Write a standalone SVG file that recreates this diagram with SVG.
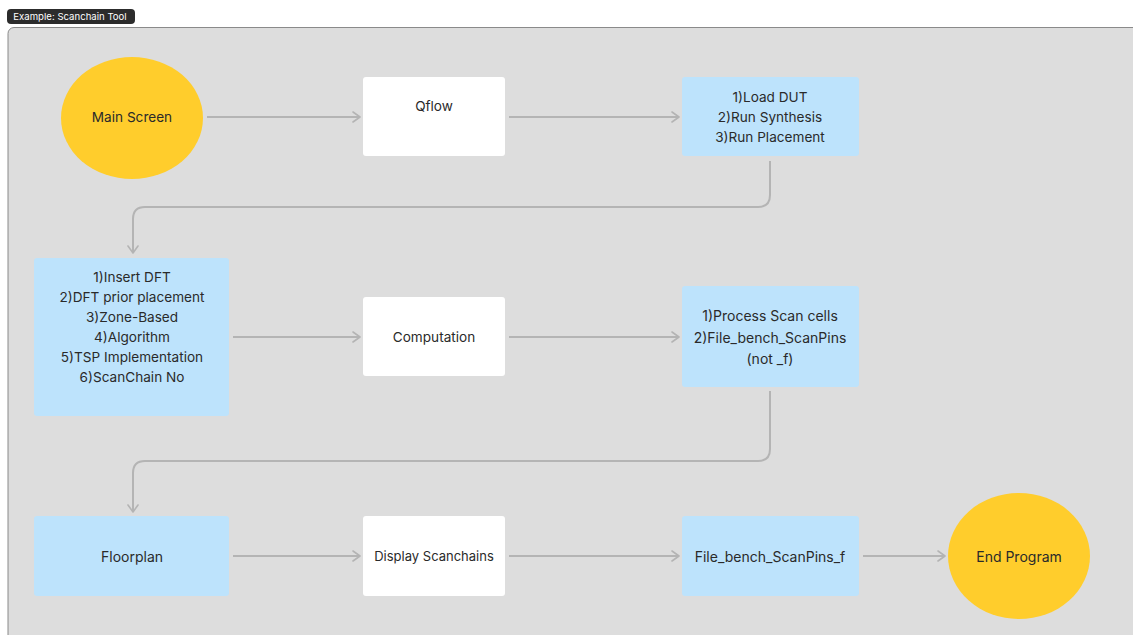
<svg xmlns="http://www.w3.org/2000/svg" width="1133" height="635" viewBox="0 0 1133 635">
  <defs>
    <marker id="arrow" viewBox="0 0 12 12" refX="10" refY="6" markerWidth="12" markerHeight="12" markerUnits="userSpaceOnUse" orient="auto">
      <path d="M3,1 L10,6 L3,11" fill="none" stroke="#b4b4b4" stroke-width="1.6" stroke-linecap="round" stroke-linejoin="round"/>
    </marker>
  </defs>
  <style>
    text { font-family: Inter, "Noto Sans", "Liberation Sans", sans-serif; fill: #2a2a2a; font-size: 13.6px; text-anchor: middle; dominant-baseline: central; }
    .big { font-size: 14px; }
    .blue { fill: #bde3fc; }
    .white { fill: #ffffff; }
    .term { fill: #ffcd2c; }
    .edge { fill: none; stroke: #b4b4b4; stroke-width: 2; marker-end: url(#arrow); }
  </style>

  <rect width="1133" height="635" fill="#ffffff"/>

  <!-- section frame -->
  <rect x="8" y="27.5" width="1140" height="620" rx="6" fill="#dddddd" stroke="#8a8a8a" stroke-width="1"/>
  <g id="frame-label">
    <rect x="7" y="9" width="128" height="15" rx="4" fill="#2c2c2c"/>
    <text x="70" y="16.5" style="fill:#ffffff;font-size:9.6px">Example: Scanchain Tool</text>
  </g>

  <!-- connectors -->
  <g id="connectors">
    <path class="edge" d="M207,117 H360"/>
    <path class="edge" d="M509,117 H679"/>
    <path class="edge" d="M770,161 V195 Q770,207 758,207 H145 Q133,207 133,219 V253"/>
    <path class="edge" d="M233,337 H360"/>
    <path class="edge" d="M509,337 H679"/>
    <path class="edge" d="M770,391 V449 Q770,461 758,461 H145 Q133,461 133,473 V512"/>
    <path class="edge" d="M233,556 H360"/>
    <path class="edge" d="M509,556 H679"/>
    <path class="edge" d="M863,556 H945"/>
  </g>

  <!-- nodes -->
  <g id="main-screen">
    <ellipse class="term" cx="132" cy="118" rx="71" ry="61"/>
    <text x="132" y="117">Main Screen</text>
  </g>

  <g id="qflow">
    <rect class="white" x="363" y="77" width="142" height="79" rx="3"/>
    <text x="434" y="106">Qflow</text>
  </g>

  <g id="synthesis">
    <rect class="blue" x="682" y="77" width="177" height="79" rx="3"/>
    <text x="770" y="97">1)Load DUT</text>
    <text x="770" y="117">2)Run Synthesis</text>
    <text x="770" y="137">3)Run Placement</text>
  </g>

  <g id="dft-options">
    <rect class="blue" x="34" y="258" width="195" height="158" rx="3"/>
    <text x="132" y="277">1)Insert DFT</text>
    <text x="132" y="297">2)DFT prior placement</text>
    <text x="132" y="317">3)Zone-Based</text>
    <text x="132" y="337">4)Algorithm</text>
    <text x="132" y="357">5)TSP Implementation</text>
    <text x="132" y="377">6)ScanChain No</text>
  </g>

  <g id="computation">
    <rect class="white" x="363" y="297" width="142" height="79" rx="3"/>
    <text x="434" y="337">Computation</text>
  </g>

  <g id="scan-cells">
    <rect class="blue" x="682" y="286" width="177" height="101" rx="3"/>
    <text class="big" x="770" y="315">1)Process Scan cells</text>
    <text class="big" x="770" y="337">2)File_bench_ScanPins</text>
    <text class="big" x="770" y="358">(not _f)</text>
  </g>

  <g id="floorplan">
    <rect class="blue" x="34" y="516" width="195" height="80" rx="3"/>
    <text class="big" x="132" y="556">Floorplan</text>
  </g>

  <g id="display-scanchains">
    <rect class="white" x="363" y="516" width="142" height="80" rx="3"/>
    <text x="434" y="556" style="font-size:13px">Display Scanchains</text>
  </g>

  <g id="scanpins-f">
    <rect class="blue" x="682" y="516" width="177" height="80" rx="3"/>
    <text class="big" x="770" y="556">File_bench_ScanPins_f</text>
  </g>

  <g id="end-program">
    <ellipse class="term" cx="1019" cy="556" rx="71" ry="63"/>
    <text class="big" x="1019" y="556">End Program</text>
  </g>
</svg>
